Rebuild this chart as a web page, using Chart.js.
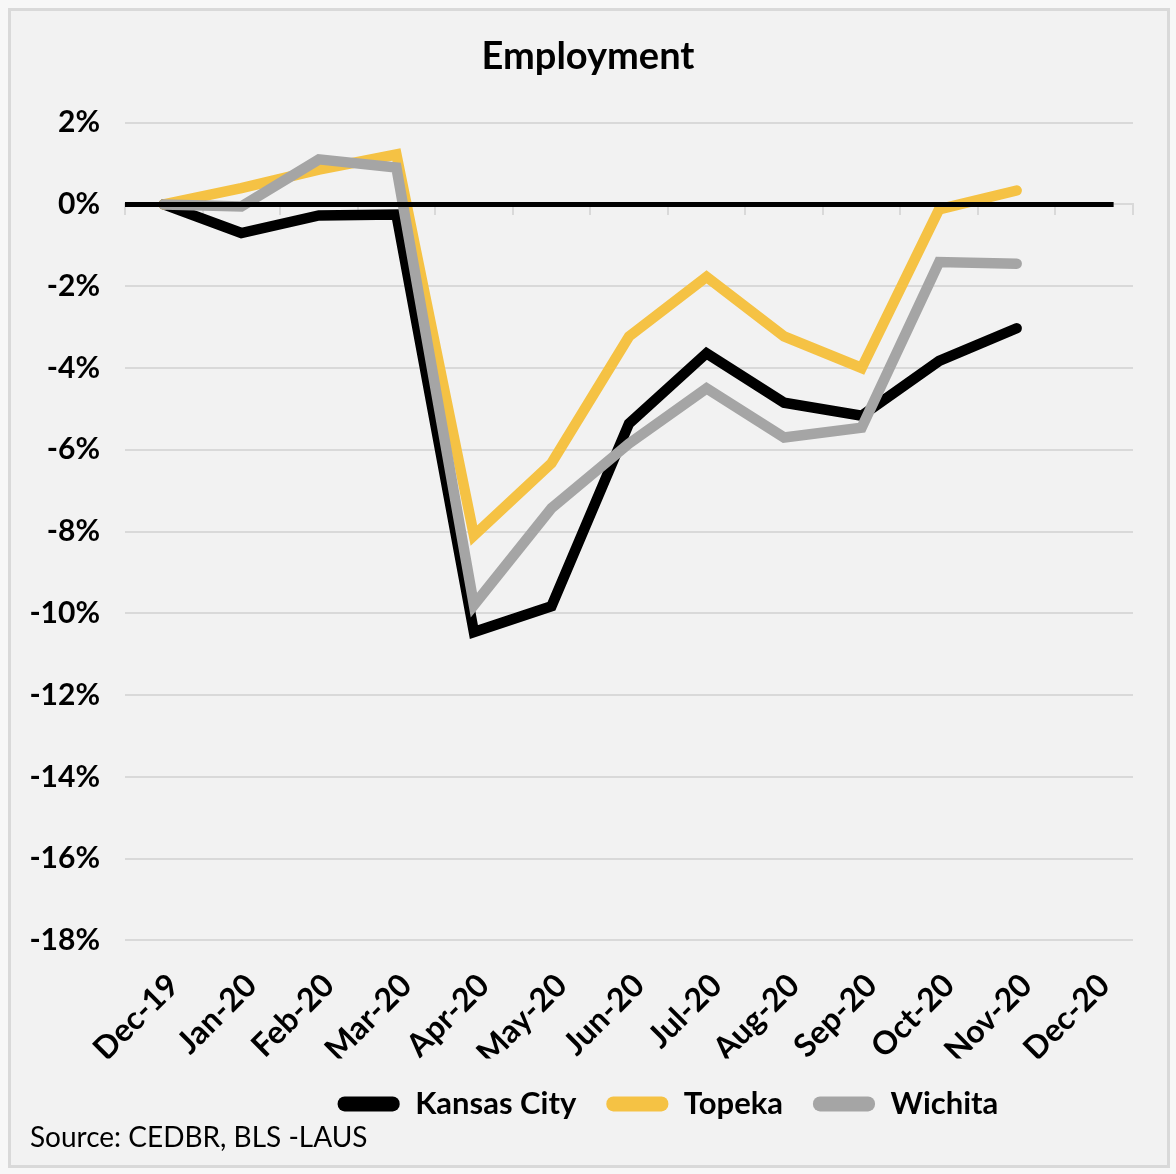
<!DOCTYPE html>
<html><head><meta charset="utf-8">
<script src="https://cdn.jsdelivr.net/npm/chart.js@4.4.1/dist/chart.umd.min.js"></script>
<style>
html,body{margin:0;padding:0;background:#f7f7f7;width:1176px;height:1174px;overflow:hidden;}
#frame{position:absolute;left:8px;top:8px;width:1156px;height:1154px;background:#f2f2f2;border:3px solid #d9d9d9;}
#wrap{position:absolute;left:0;top:0;width:1176px;height:1174px;}
</style></head><body>
<div id="frame"></div>
<div id="wrap"><canvas id="c"></canvas></div>
<script>
const categories = ['Dec-19','Jan-20','Feb-20','Mar-20','Apr-20','May-20','Jun-20','Jul-20','Aug-20','Sep-20','Oct-20','Nov-20','Dec-20'];
const kansasCity = [0, -0.7, -0.27, -0.25, -10.46, -9.83, -5.36, -3.64, -4.85, -5.17, -3.83, -3.03];
const topeka     = [0, 0.4, 0.85, 1.22, -8.1, -6.33, -3.23, -1.77, -3.23, -4.0, -0.12, 0.34];
const wichita    = [0, -0.05, 1.1, 0.9, -9.8, -7.43, -5.85, -4.5, -5.7, -5.46, -1.41, -1.45];
const seriesNames = ['Kansas City', 'Topeka', 'Wichita'];
const yMin = -18, yMax = 2, yStep = 2;
const titleText = 'Employment';
const sourceText = 'Source: CEDBR, BLS -LAUS';

const FONT = 'Lato';
Chart.defaults.font.family = FONT;
Chart.defaults.color = '#000000';

const zeroLine = {
  id: 'zeroLine',
  afterDatasetsDraw(chart) {
    const {ctx, chartArea, scales} = chart;
    const y = scales.y.getPixelForValue(0);
    const xEnd = (scales.x.getPixelForValue(categories.length - 1) + chartArea.right) / 2;
    ctx.save();
    ctx.strokeStyle = '#000000';
    ctx.lineWidth = 5;
    ctx.beginPath();
    ctx.moveTo(chartArea.left, y);
    ctx.lineTo(xEnd, y);
    ctx.stroke();
    ctx.restore();
  }
};
const legendShift = {
  id: 'legendShift',
  afterLayout(chart) {
    chart.legend.left += 80;
    chart.legend.right += 80;
  }
};

function lineDs(label, data, color, order) {
  return {
    label, data, order,
    borderColor: color, backgroundColor: color,
    borderWidth: 10.5, pointRadius: 0, pointHoverRadius: 0,
    tension: 0, borderCapStyle: 'round', borderJoinStyle: 'miter',
    xAxisID: 'x', yAxisID: 'y'
  };
}

function start() {
  new Chart(document.getElementById('c'), {
    type: 'line',
    data: {
      labels: categories,
      datasets: [
        lineDs(seriesNames[0], kansasCity, '#000000', 3),
        lineDs(seriesNames[1], topeka, '#f5c244', 2),
        lineDs(seriesNames[2], wichita, '#a5a5a5', 1)
      ]
    },
    options: {
      responsive: true,
      maintainAspectRatio: false,
      animation: false,
      layout: { padding: { left: 30, right: 30, top: 0, bottom: 0 } },
      scales: {
        y: {
          min: yMin, max: yMax,
          ticks: { stepSize: yStep, padding: 25, font: { size: 30, weight: 'bold' },
                   callback: v => v + '%' },
          grid: { color: '#d9d9d9', lineWidth: 2, drawTicks: false },
          border: { display: false },
          afterFit(s) { s.width = 95; }
        },
        x: {
          type: 'category',
          offset: true,
          ticks: { minRotation: 45, maxRotation: 45, padding: 18, autoSkip: false,
                   labelOffset: 10, font: { size: 32, weight: 'bold' } },
          grid: { display: false },
          border: { display: false },
          afterFit(s) { s.height = 118; s.paddingRight = 43; }
        },
        x2: {
          type: 'category',
          position: { y: 0 },
          offset: true,
          ticks: { display: false },
          grid: { offset: true, drawOnChartArea: false, drawTicks: true, tickLength: 10,
                  color: '#d9d9d9', lineWidth: 2 },
          border: { display: true, color: '#d9d9d9', width: 2 }
        }
      },
      plugins: {
        title: { display: true, text: titleText, font: { size: 38, weight: 'bold' },
                 padding: { top: 34, bottom: 43 } },
        subtitle: { display: true, text: sourceText, position: 'bottom', align: 'start',
                    font: { size: 28, weight: 'normal' }, padding: { top: -8, bottom: 19 } },
        legend: {
          position: 'bottom',
          labels: {
            font: { size: 31, weight: 'bold' },
            boxWidth: 62, boxHeight: 15, useBorderRadius: true, borderRadius: 7,
            padding: 30,
            sort: (a, b) => a.datasetIndex - b.datasetIndex,
            generateLabels: (chart) => Chart.defaults.plugins.legend.labels.generateLabels(chart)
              .map(l => Object.assign(l, { lineWidth: 0, fillStyle: l.strokeStyle }))
          }
        },
        tooltip: { enabled: false }
      }
    },
    plugins: [zeroLine, legendShift]
  });
}
if (document.fonts && document.fonts.load) {
  Promise.all([document.fonts.load('bold 30px Lato'), document.fonts.load('30px Lato')]).then(start, start);
} else start();
</script>
</body></html>
